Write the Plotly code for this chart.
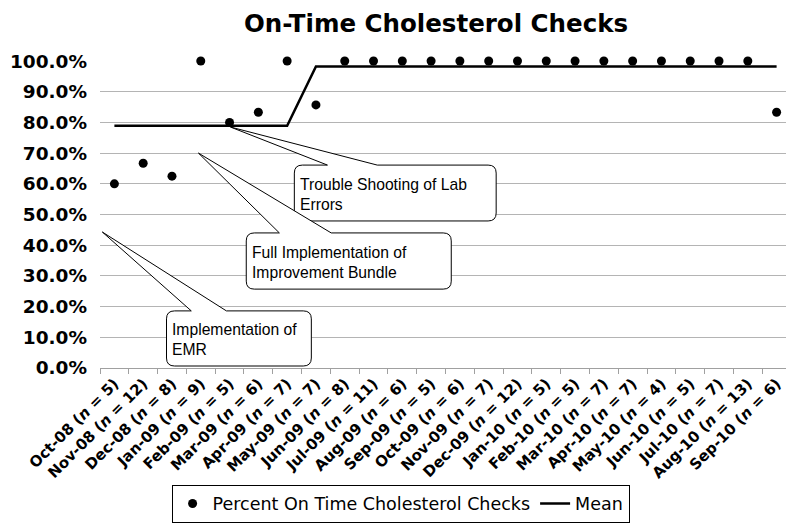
import plotly.graph_objects as go

months = ["Oct-08", "Nov-08", "Dec-08", "Jan-09", "Feb-09", "Mar-09", "Apr-09", "May-09",
          "Jun-09", "Jul-09", "Aug-09", "Sep-09", "Oct-09", "Nov-09", "Dec-09", "Jan-10",
          "Feb-10", "Mar-10", "Apr-10", "May-10", "Jun-10", "Jul-10", "Aug-10", "Sep-10"]
n_vals = [5, 12, 8, 9, 5, 6, 7, 7, 8, 11, 6, 5, 6, 7, 12, 5, 5, 7, 7, 4, 5, 7, 13, 6]
percent = [0.600, 0.667, 0.625, 1.000, 0.800, 0.833, 1.000, 0.857,
           1.000, 1.000, 1.000, 1.000, 1.000, 1.000, 1.000, 1.000,
           1.000, 1.000, 1.000, 1.000, 1.000, 1.000, 1.000, 0.833]
mean_vals = [0.789] * 7 + [0.982] * 17

labels = [f"{m} (<i>n</i> = {k})" for m, k in zip(months, n_vals)]

# callouts: (text, box x0, x1 (category index), y0, y1, tip (x, y), wedge base x pair)
callouts = [
    ("Trouble Shooting of Lab<br>Errors", 6.25, 13.26, 0.479, 0.661, (4.03, 0.785), (7.4, 9.13)),
    ("Full Implementation of<br>Improvement Bundle", 4.58, 11.70, 0.257, 0.440, (2.92, 0.700), (5.73, 7.53)),
    ("Implementation of<br>EMR", 1.81, 6.84, 0.0065, 0.186, (-0.42, 0.443), (2.67, 3.89)),
]

fig = go.Figure()
fig.add_trace(go.Scatter(
    x=labels, y=percent, mode="markers", name="Percent On Time Cholesterol Checks",
    marker=dict(color="black", size=9), cliponaxis=False))
fig.add_trace(go.Scatter(
    x=labels, y=mean_vals, mode="lines", name="Mean",
    line=dict(color="black", width=2.5), cliponaxis=False))

rx, ry = 0.28, 0.026
shapes = []
annotations = []
for text, x0, x1, y0, y1, tip, base in callouts:
    bl, br = base
    tx, ty = tip
    path = (f"M {x0+rx},{y1} L {bl},{y1} L {tx},{ty} L {br},{y1} L {x1-rx},{y1} "
            f"Q {x1},{y1} {x1},{y1-ry} L {x1},{y0+ry} Q {x1},{y0} {x1-rx},{y0} "
            f"L {x0+rx},{y0} Q {x0},{y0} {x0},{y0+ry} L {x0},{y1-ry} Q {x0},{y1} {x0+rx},{y1} Z")
    shapes.append(dict(type="path", xref="x", yref="y", path=path,
                       line=dict(color="black", width=1), fillcolor="white", layer="above"))
    annotations.append(dict(x=x0 + 0.12, y=(y0 + y1) / 2 - 0.005, xref="x", yref="y", text=text,
                            showarrow=False, xanchor="left", yanchor="middle", align="left",
                            font=dict(family="Liberation Sans", size=15.7, color="black")))

# page body adds an 8px margin, so the figure is 8px smaller than the window
fig.update_layout(
    width=786, height=517,
    margin=dict(l=92, r=3, t=53, b=157),
    paper_bgcolor="white", plot_bgcolor="white",
    title=dict(text="<b>On-Time Cholesterol Checks</b>", x=428 / 786, xanchor="center",
               y=1 - 15 / 517, yanchor="middle", yref="container",
               font=dict(family="DejaVu Sans", size=24.5, color="black")),
    showlegend=True,
    legend=dict(orientation="h", x=0.435, xanchor="center", y=-0.38, yanchor="top",
                bordercolor="black", borderwidth=1, bgcolor="white",
                font=dict(family="DejaVu Sans", size=17.5, color="black"),
                itemwidth=30, tracegroupgap=0),
    shapes=shapes,
    annotations=annotations,
)
fig.update_xaxes(type="category", range=[-0.5, 23.5], tickson="boundaries", ticks="outside",
                 ticklen=5, tickcolor="#a0a0a0", showline=True, linecolor="#a0a0a0",
                 linewidth=1, showgrid=False, tickangle=-45, automargin=False,
                 tickfont=dict(family="DejaVu Sans", size=15, color="black", weight="bold"))
fig.update_yaxes(range=[0, 1.0001], dtick=0.1, tickformat=".1%", showgrid=True,
                 gridcolor="#b4b4b4", gridwidth=1, zeroline=False, showline=False,
                 automargin=False,
                 tickfont=dict(family="DejaVu Sans", size=18.5, color="black", weight="bold"),
                 ticks="", ticklabelstandoff=12)

fig.write_html("out.html")
